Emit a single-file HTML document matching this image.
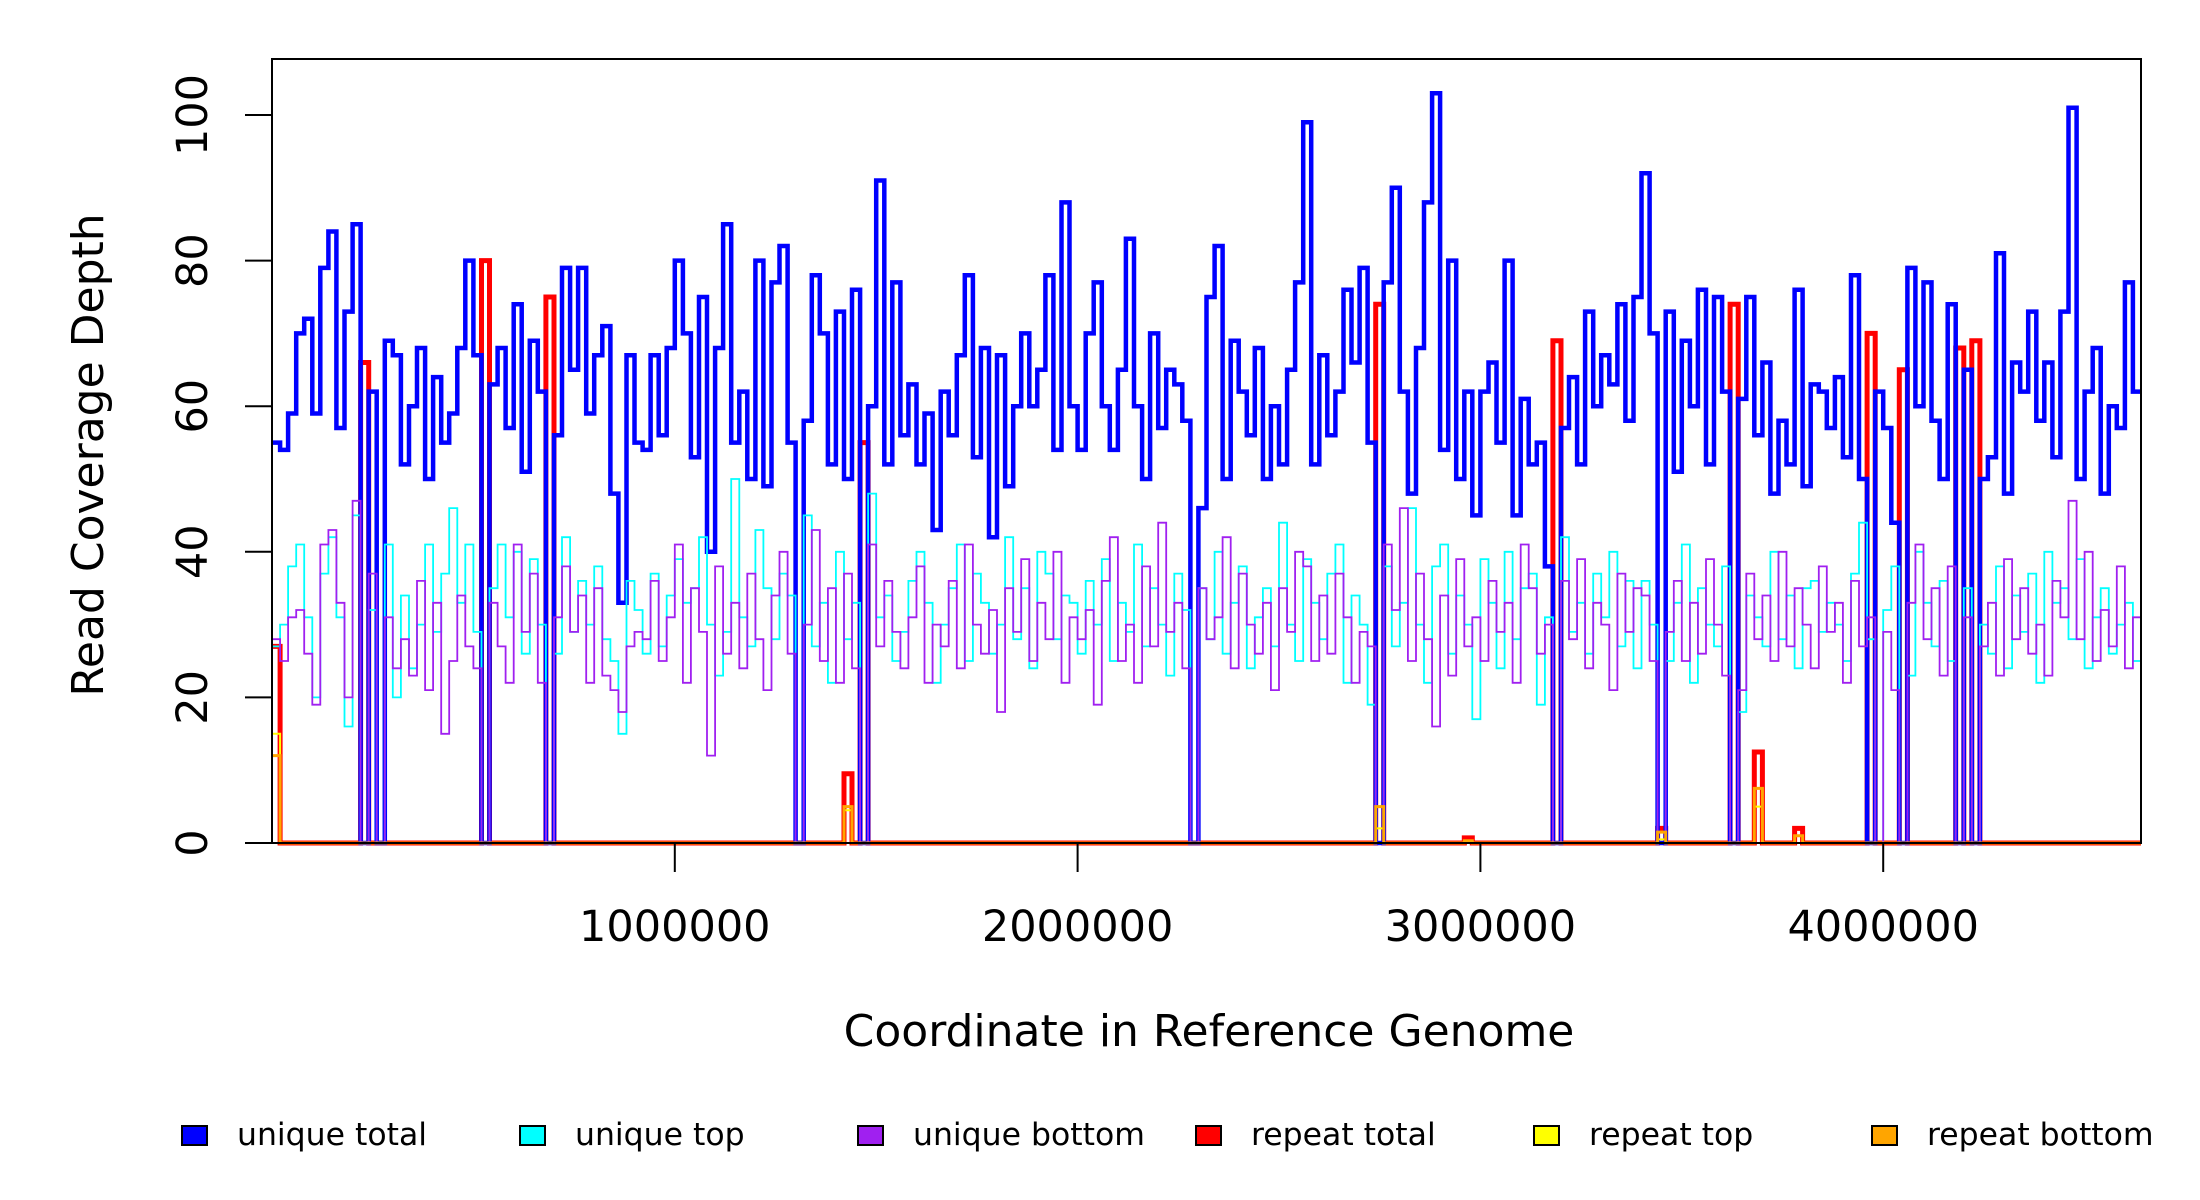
<!DOCTYPE html>
<html><head><meta charset="utf-8">
<style>
html,body{margin:0;padding:0;background:#fff;}
svg{display:block;font-family:"DejaVu Sans","Liberation Sans",sans-serif;}
</style></head>
<body>
<svg id="chart" width="2200" height="1200" viewBox="0 0 2200 1200" xmlns="http://www.w3.org/2000/svg">
<g id="marks"></g>
<rect x="272" y="59" width="1869" height="784" fill="none" stroke="#000" stroke-width="2"/>
<g id="axes"></g>
<text x="103" y="455" font-size="44" text-anchor="middle" transform="rotate(-90 103 455)">Read Coverage Depth</text>
<text x="1209" y="1046" font-size="44" text-anchor="middle">Coordinate in Reference Genome</text>
<g id="legend"></g>
</svg>
<script>
const binSize = 20000;
const genomeLength = 4640000;
const yTicks = [0, 20, 40, 60, 80, 100];
const xTicks = [1000000, 2000000, 3000000, 4000000];
const uniqueTotal = [55,54,59,70,72,59,79,84,57,73,85,0,62,0,69,67,52,60,68,50,64,55,59,68,80,67,0,63,68,57,74,51,69,62,0,56,79,65,79,59,67,71,48,33,67,55,54,67,56,68,
80,70,53,75,40,68,85,55,62,50,80,49,77,82,55,0,58,78,70,52,73,50,76,0,60,91,52,77,56,63,52,59,43,62,56,67,78,53,68,42,67,49,60,70,60,65,78,54,88,60,
54,70,77,60,54,65,83,60,50,70,57,65,63,58,0,46,75,82,50,69,62,56,68,50,60,52,65,77,99,52,67,56,62,76,66,79,55,0,77,90,62,48,68,88,103,54,80,50,62,45,
62,66,55,80,45,61,52,55,38,0,57,64,52,73,60,67,63,74,58,75,92,70,0,73,51,69,60,76,52,75,62,0,61,75,56,66,48,58,52,76,49,63,62,57,64,53,78,50,0,62,
57,44,0,79,60,77,58,50,74,0,65,0,50,53,81,48,66,62,73,58,66,53,73,101,50,62,68,48,60,57,77,62];
const uniqueTop = [27,30,38,41,31,20,37,42,31,16,45,0,32,0,41,20,34,24,30,41,29,37,46,33,41,29,0,35,41,31,40,26,39,30,0,26,42,29,36,30,38,28,25,15,36,32,26,37,27,34,
39,33,35,42,30,23,29,50,31,27,43,35,28,37,34,0,45,27,33,22,40,28,33,0,48,31,34,25,29,36,40,33,22,30,35,41,25,37,33,26,30,42,28,35,24,40,37,28,34,33,
26,36,30,39,25,33,29,41,27,35,30,23,37,32,0,35,28,40,26,33,38,24,31,35,27,44,30,25,39,33,28,37,41,22,34,30,19,0,38,27,33,46,30,22,38,41,26,34,30,17,
39,33,24,40,28,35,37,19,31,0,42,29,33,26,37,31,40,27,36,24,36,30,0,25,33,41,22,35,30,27,38,0,18,34,31,27,40,28,34,24,35,36,29,33,30,25,37,44,28,0,
32,38,0,23,40,33,27,36,25,0,35,0,30,26,38,24,34,29,37,22,40,33,35,28,39,24,31,35,26,30,33,25];
const uniqueBottom = [28,25,31,32,26,19,41,43,33,20,47,0,37,0,31,24,28,23,36,21,33,15,25,34,27,24,0,33,27,22,41,29,37,22,0,31,38,29,34,22,35,23,21,18,27,29,28,36,25,31,
41,22,35,29,12,38,26,33,24,37,28,21,34,40,26,0,30,43,25,35,22,37,24,0,41,27,36,29,24,31,38,22,30,27,36,24,41,30,26,32,18,35,29,39,25,33,28,40,22,31,
28,32,19,36,42,25,30,22,38,27,44,29,33,24,0,35,28,31,42,24,37,30,26,33,21,35,29,40,38,25,34,26,37,31,22,29,27,0,41,32,46,25,37,28,16,34,23,39,27,31,
25,36,29,33,22,41,35,26,30,0,36,28,39,24,33,30,21,37,29,35,34,25,0,29,36,25,33,26,39,30,23,0,21,37,28,34,25,40,27,35,30,24,38,29,33,22,36,27,31,0,
29,21,0,33,41,28,35,23,38,0,31,0,27,33,23,39,28,35,26,30,23,36,31,47,28,40,25,32,27,38,24,31];
const repeatBins =   [0, 11, 26, 34, 71, 73, 137, 148, 159, 172, 181, 184, 189, 198, 202, 209, 211];
const repeatTotal =  [27, 66, 80, 75, 9.5, 55, 74, 0.7, 69, 2, 74, 12.5, 2, 70, 65, 68, 69];
const repeatTop =    [15, 0, 0, 0, 4.5, 0, 2, 0.3, 0, 0.5, 0, 5, 1, 0, 0, 0, 0];
const repeatBottom = [12, 0, 0, 0, 5, 0, 5, 0.3, 0, 1.5, 0, 7.5, 1, 0, 0, 0, 0];
const legendLabels = ["unique total","unique top","unique bottom","repeat total","repeat top","repeat bottom"];
const legendColors = ["#0000FF","#00FFFF","#A020F0","#FF0000","#FFFF00","#FFA500"];

const NS = "http://www.w3.org/2000/svg";
const X0 = 272, X1 = 2141, Y0 = 843, PXU = 7.28;
function xs(g){ return X0 + g / genomeLength * (X1 - X0); }
function ys(v){ return Y0 - v * PXU; }
function stepPath(vals){
  let d = "";
  for (let i = 0; i < vals.length; i++){
    const xa = xs(i * binSize), xb = xs(Math.min((i + 1) * binSize, genomeLength)), y = ys(vals[i]);
    d += (i === 0 ? "M" : "L") + xa.toFixed(1) + "," + y.toFixed(1) + "L" + xb.toFixed(1) + "," + y.toFixed(1);
  }
  return d;
}
function expand(bins, vals){
  const out = new Array(uniqueTotal.length).fill(0);
  bins.forEach((b, k) => { out[b] = vals[k]; });
  return out;
}
const marks = document.getElementById("marks");
function addLine(vals, color, w, name){
  const p = document.createElementNS(NS, "path");
  p.setAttribute("d", stepPath(vals));
  p.setAttribute("fill", "none");
  p.setAttribute("stroke", color);
  p.setAttribute("stroke-width", w);
  p.setAttribute("stroke-linejoin", "miter");
  
  
  marks.appendChild(p);
}
addLine(expand(repeatBins, repeatTotal), "#FF0000", 5, "repeat-total-line");
addLine(uniqueTotal, "#0000FF", 4.5, "unique-total-line");
addLine(uniqueTop, "#00FFFF", 1.8, "unique-top-line");
addLine(uniqueBottom, "#A020F0", 1.8, "unique-bottom-line");
addLine(expand(repeatBins, repeatTop), "#FFFF00", 2, "repeat-top-line");
addLine(expand(repeatBins, repeatBottom), "#FFA500", 3, "repeat-bottom-line");

const axes = document.getElementById("axes");
yTicks.forEach(v => {
  const l = document.createElementNS(NS, "line");
  l.setAttribute("x1", 245); l.setAttribute("x2", 272);
  l.setAttribute("y1", ys(v)); l.setAttribute("y2", ys(v));
  l.setAttribute("stroke", "#000"); l.setAttribute("stroke-width", 2);
  
  
  axes.appendChild(l);
  const t = document.createElementNS(NS, "text");
  const ty = ys(v);
  t.setAttribute("x", 207); t.setAttribute("y", ty);
  t.setAttribute("font-size", 43); t.setAttribute("text-anchor", "middle");
  t.setAttribute("transform", "rotate(-90 207 " + ty + ")");
  t.textContent = String(v);
  
  
  axes.appendChild(t);
});
xTicks.forEach(g => {
  const x = xs(g);
  const l = document.createElementNS(NS, "line");
  l.setAttribute("x1", x); l.setAttribute("x2", x);
  l.setAttribute("y1", 843); l.setAttribute("y2", 872);
  l.setAttribute("stroke", "#000"); l.setAttribute("stroke-width", 2);
  
  
  axes.appendChild(l);
  const t = document.createElementNS(NS, "text");
  t.setAttribute("x", x); t.setAttribute("y", 941);
  t.setAttribute("font-size", 43); t.setAttribute("text-anchor", "middle");
  t.textContent = String(g);
  
  
  axes.appendChild(t);
});
const legend = document.getElementById("legend");
legendLabels.forEach((lab, i) => {
  const bx = 182 + i * 338;
  const r = document.createElementNS(NS, "rect");
  r.setAttribute("x", bx); r.setAttribute("y", 1126);
  r.setAttribute("width", 25); r.setAttribute("height", 19);
  r.setAttribute("fill", legendColors[i]); r.setAttribute("stroke", "#000"); r.setAttribute("stroke-width", 2);
  
  
  legend.appendChild(r);
  const t = document.createElementNS(NS, "text");
  t.setAttribute("x", bx + 55); t.setAttribute("y", 1145);
  t.setAttribute("font-size", 31.5);
  t.textContent = lab;
  
  
  legend.appendChild(t);
});
</script>
</body></html>
